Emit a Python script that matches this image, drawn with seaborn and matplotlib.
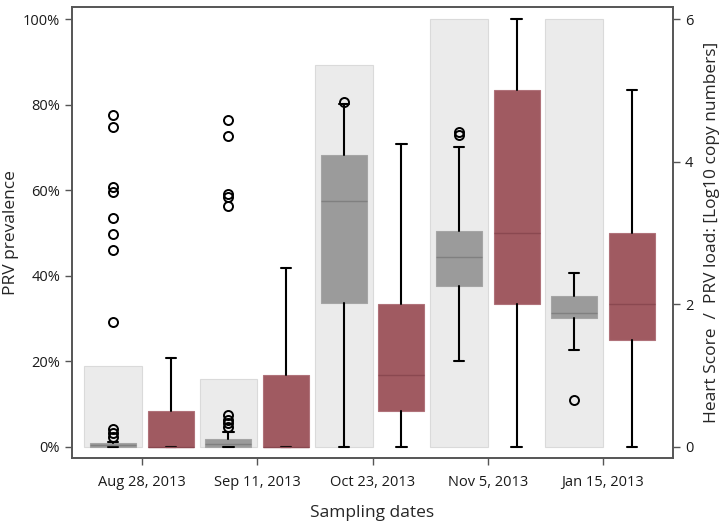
import matplotlib
matplotlib.use("Agg")
import matplotlib.pyplot as plt
import seaborn as sns
import numpy as np
import pandas as pd
from matplotlib.ticker import PercentFormatter

# values
dates = ["Aug 28, 2013", "Sep 11, 2013", "Oct 23, 2013", "Nov 5, 2013", "Jan 15, 2013"]
prevalence = [19.0, 15.8, 89.3, 100.0, 100.0]

# PRV load (log10 copy numbers) box stats
load_lo = [0.0, 0.0, 0.0, 1.20, 1.35]
load_q1 = [0.0, 0.0, 2.02, 2.25, 1.80]
load_med = [0.02, 0.03, 3.45, 2.66, 1.87]
load_q3 = [0.05, 0.10, 4.09, 3.03, 2.11]
load_hi = [0.07, 0.20, 4.81, 4.20, 2.44]
load_fliers = [[4.65, 4.48, 3.64, 3.58, 3.21, 2.98, 2.76, 1.75, 0.25, 0.19, 0.13],
               [4.58, 4.36, 3.55, 3.51, 3.37, 0.45, 0.38, 0.33, 0.27],
               [4.83],
               [4.41, 4.38],
               [0.66]]

# Heart score box stats
heart_lo = [0.0, 0.0, 0.0, 0.0, 0.0]
heart_q1 = [0.0, 0.0, 0.5, 2.0, 1.5]
heart_med = [0.0, 0.0, 1.0, 3.0, 2.0]
heart_q3 = [0.5, 1.0, 2.0, 5.0, 3.0]
heart_hi = [1.25, 2.5, 4.25, 6.0, 5.0]


def make_stats(lo, q1, med, q3, hi, fliers):
    out = []
    for i in range(len(lo)):
        out.append({"whislo": lo[i], "q1": q1[i], "med": med[i], "q3": q3[i],
                    "whishi": hi[i], "fliers": fliers[i]})
    return out


sns.set_style("ticks")
plt.rcParams['font.family'] = ['Open Sans', 'DejaVu Sans']

fig = plt.figure(figsize=(7.26, 5.24), dpi=100)
ax = fig.add_axes([0.0992, 0.126, 0.8278, 0.8606])

# prevalence bars (left axis), dodged to the left half of each date
df = pd.DataFrame({"date": dates + dates,
                   "series": ["prevalence"] * 5 + ["heart"] * 5,
                   "value": prevalence + [np.nan] * 5})
sns.barplot(data=df, x="date", y="value", hue="series", order=dates,
            hue_order=["prevalence", "heart"], width=1.0,
            palette={"prevalence": "#ebebeb", "heart": "#ebebeb"},
            edgecolor="#dadada", linewidth=0.8, errorbar=None, legend=False, ax=ax)

ax.set_xlim(-0.607, 4.607)
ax.set_ylim(-2.6, 102.8)
ax.yaxis.set_major_formatter(PercentFormatter(decimals=0))
ax.set_yticks([0, 20, 40, 60, 80, 100])

# boxes on the right axis
ax2 = ax.twinx()
pos = np.arange(len(dates))
line_kw = dict(color="black", linewidth=1.5)
flier_kw = dict(marker="o", markerfacecolor="none", markeredgecolor="black",
                markersize=6.5, markeredgewidth=1.4, linestyle="none")

ax2.bxp(make_stats(load_lo, load_q1, load_med, load_q3, load_hi, load_fliers),
        positions=pos - 0.25, widths=0.4, capwidths=0.09, patch_artist=True,
        boxprops=dict(facecolor="#9b9b9b", edgecolor="#a5a5a5", linewidth=0.8),
        medianprops=dict(color="#808080", linewidth=1.0),
        whiskerprops=line_kw, capprops=line_kw, flierprops=flier_kw,
        manage_ticks=False)

ax2.bxp(make_stats(heart_lo, heart_q1, heart_med, heart_q3, heart_hi, [[]] * 5),
        positions=pos + 0.25, widths=0.4, capwidths=0.09, patch_artist=True,
        boxprops=dict(facecolor="#a05a61", edgecolor="#b0727a", linewidth=0.8),
        medianprops=dict(color="#8a4850", linewidth=1.0),
        whiskerprops=line_kw, capprops=line_kw, flierprops=flier_kw,
        manage_ticks=False)

ax2.set_xlim(-0.607, 4.607)
ax2.set_ylim(-0.16, 6.17)
ax2.set_yticks([0, 2, 4, 6])

ax.set_xticks(pos)
ax.set_xticklabels(dates)

for a in (ax, ax2):
    for s in a.spines.values():
        s.set_visible(True)
        s.set_color("#555555")
        s.set_linewidth(1.2)
    a.tick_params(direction="out", length=5, width=1.0, color="#555555",
                  labelsize=10.5, labelcolor="#1a1a1a")
ax.tick_params(axis="x", pad=7)

ax.set_xlabel("Sampling dates", fontsize=12.5, labelpad=11)
ax.set_ylabel("PRV prevalence", fontsize=12.5, labelpad=3)
ax2.set_ylabel("Heart Score  /  PRV load: [Log10 copy numbers]", fontsize=12.5, labelpad=8)

fig.savefig("out.png", dpi=100)
